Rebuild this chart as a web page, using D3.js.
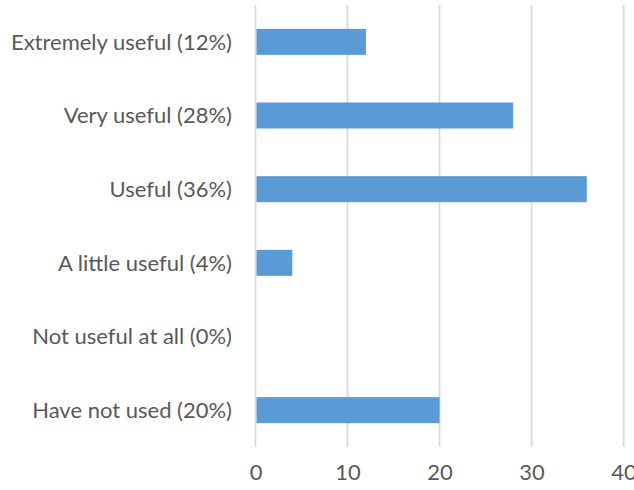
<!DOCTYPE html>
<html>
<head>
<meta charset="utf-8">
<script src="https://cdn.jsdelivr.net/npm/d3@7"></script>
<style>
  html, body { margin: 0; padding: 0; background: #fff; }
  svg text { font-family: Lato, "Open Sans", sans-serif; fill: #595959; }
</style>
</head>
<body>
<svg id="chart" width="634" height="490"></svg>
<script>
// Survey responses: share of respondents (%) per usefulness rating
const categories = [
  "Extremely useful (12%)",
  "Very useful (28%)",
  "Useful (36%)",
  "A little useful (4%)",
  "Not useful at all (0%)",
  "Have not used (20%)"
];
const values = [12, 28, 36, 4, 0, 20];
const tickValues = [0, 10, 20, 30, 40];

const svg = d3.select("#chart");
const margin = { left: 255.5, right: 10.5, top: 5, bottom: 43 };
const width = 634, height = 490;

const x = d3.scaleLinear()
  .domain([0, 40])
  .range([margin.left, 623.6]);

const y = d3.scaleBand()
  .domain(categories)
  .range([margin.top, height - margin.bottom])
  .paddingInner(0.647)
  .paddingOuter(0.3235);

// vertical gridlines
svg.append("g")
  .selectAll("line")
  .data(tickValues)
  .join("line")
  .attr("x1", d => x(d))
  .attr("x2", d => x(d))
  .attr("y1", margin.top)
  .attr("y2", height - margin.bottom)
  .attr("stroke", "#d9d9d9")
  .attr("stroke-width", 1.75);

// bars
svg.append("g")
  .selectAll("rect")
  .data(values)
  .join("rect")
  .attr("x", x(0) + 1)
  .attr("y", (d, i) => y(categories[i]))
  .attr("width", d => Math.max(0, x(d) - x(0) - 1))
  .attr("height", y.bandwidth())
  .attr("fill", "#5b9bd5");

// category labels
svg.append("g")
  .selectAll("text")
  .data(categories)
  .join("text")
  .attr("x", 232)
  .attr("y", d => y(d) + y.bandwidth() / 2)
  .attr("dy", "0.35em")
  .attr("text-anchor", "end")
  .style("font-size", "22px")
  .text(d => d);

// x-axis tick labels
const xAxis = d3.axisBottom(x).tickValues(tickValues).tickSize(0).tickPadding(0);
const gx = svg.append("g")
  .attr("transform", `translate(0, ${height - 18})`)
  .call(xAxis);
gx.select(".domain").remove();
gx.selectAll("text")
  .attr("y", 0)
  .attr("dy", "0.35em")
  .style("font-size", "22px")
  .style("font-family", "Lato, 'Open Sans', sans-serif")
  .attr("fill", "#595959");
</script>
</body>
</html>
